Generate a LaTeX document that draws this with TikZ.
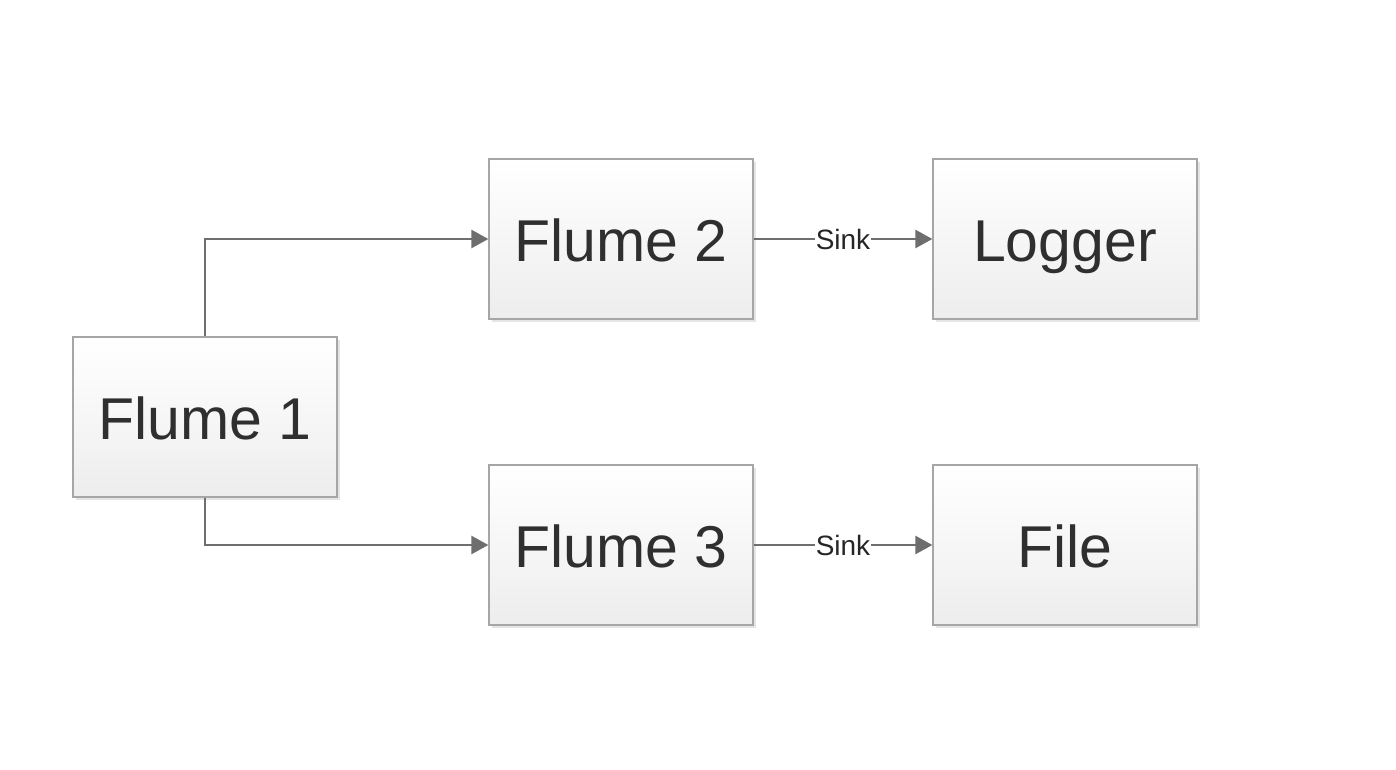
\documentclass[tikz,border=0pt]{standalone}
\usepackage{fontspec}
\setmainfont{Liberation Sans}
\usetikzlibrary{arrows.meta,shadows}
\definecolor{boxline}{HTML}{A6A6A6}
\definecolor{arrowc}{HTML}{6E6E6E}
\definecolor{txt}{HTML}{2F2F2F}
\begin{document}
\begin{tikzpicture}[x=1pt,y=-1pt,
  blk/.style={draw=boxline,line width=1.3pt,top color=white,bottom color=black!7,
    minimum width=264pt,minimum height=160pt,inner sep=0pt,
    text height=45pt,text depth=0pt,
    font=\fontsize{59}{60}\selectfont,text=txt,
    drop shadow={shadow xshift=3pt,shadow yshift=-3pt,fill=black!10,opacity=1}},
  conn/.style={draw=arrowc,line width=2.6pt,-{Triangle[length=17pt,width=18pt]}},
  lbl/.style={fill=white,inner sep=1pt,font=\fontsize{28}{30}\selectfont,text=black!85}]
\useasboundingbox (0,0) rectangle (1396,770);
\fill[white] (0,0) rectangle (1396,770);
\node[blk] (f1) at (205,417) {Flume 1};
\node[blk] (f2) at (621,239) {Flume 2};
\node[blk] (lg) at (1065,239) {Logger};
\node[blk] (f3) at (621,545) {Flume 3};
\node[blk] (fi) at (1065,545) {File};
\draw[conn] (f1.north) |- (f2.west);
\draw[conn] (f1.south) |- (f3.west);
\draw[conn] (f2.east) -- node[lbl] {Sink} (lg.west);
\draw[conn] (f3.east) -- node[lbl] {Sink} (fi.west);
\end{tikzpicture}
\end{document}
